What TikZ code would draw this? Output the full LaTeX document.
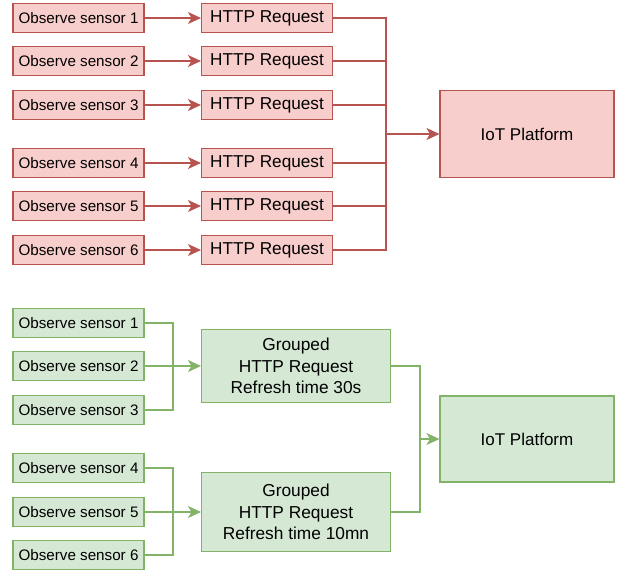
\documentclass[tikz,border=0pt]{standalone}
\usepackage{fontspec}
\setmainfont{Liberation Sans}
\usetikzlibrary{arrows.meta}
\definecolor{redfill}{HTML}{F8CECC}
\definecolor{redline}{HTML}{B85450}
\definecolor{greenfill}{HTML}{D5E8D4}
\definecolor{greenline}{HTML}{82B366}
\tikzset{box/.style={draw, rectangle, inner sep=0pt, line width=1.1pt},
  sensor/.style={box, minimum width=131pt, minimum height=29pt,
    font=\fontsize{15.2}{18}\selectfont},
  req/.style={box, minimum width=131pt, minimum height=29pt,
    font=\fontsize{17.2}{21}\selectfont},
  grouped/.style={box, minimum width=189pt, align=center,
    font=\fontsize{17.3}{21.7}\selectfont},
  platform/.style={box, minimum width=174pt, minimum height=87pt,
    font=\fontsize{17}{21}\selectfont},
  redbox/.style={fill=redfill, draw=redline},
  greenbox/.style={fill=greenfill, draw=greenline}}

\begin{document}
\begin{tikzpicture}[x=1pt, y=-1pt, line width=1.2pt,
  >={Stealth[length=13pt, width=12pt, inset=3.5pt]}]
  \useasboundingbox (0,0) rectangle (619,571);
  % one request per sensor
  \foreach \i/\y in {1/18, 2/61, 3/105, 4/163, 5/206, 6/250} {
    \node[sensor, redbox] (s\i) at (78.5,\y) {Observe sensor \i};
    \node[req, redbox] (h\i) at (267,\y) {HTTP Request};
  }
  \node[platform, redbox] (iot) at (527,134) {IoT Platform};
  \coordinate (jr) at (386,134);
  \begin{scope}[redline]
    \foreach \i in {1,...,6} {
      \draw[->] (s\i) -- (h\i);
      \draw (h\i) -| (jr);
    }
    \draw[->] (jr) -- (iot);
  \end{scope}

  % grouped requests
  \foreach \i/\y in {1/323, 2/366, 3/410, 4/468, 5/512, 6/555} {
    \node[sensor, greenbox] (g\i) at (78.5,\y) {Observe sensor \i};
  }
  \node[grouped, greenbox, minimum height=73pt] (grp1) at (296,366)
    {Grouped\\HTTP Request\\Refresh time 30s};
  \node[grouped, greenbox, minimum height=79pt] (grp2) at (296,512)
    {Grouped\\HTTP Request\\Refresh time 10mn};
  \node[platform, greenbox, minimum height=86pt] (iotg) at (527,439)
    {IoT Platform};
  \coordinate (ja) at (173,366);
  \coordinate (jb) at (173,512);
  \coordinate (jg) at (420,439);
  \begin{scope}[greenline]
    \draw (g1) -| (ja);
    \draw (g3) -| (ja);
    \draw[->] (g2) -- (grp1);
    \draw (g4) -| (jb);
    \draw (g6) -| (jb);
    \draw[->] (g5) -- (grp2);
    \draw (grp1) -| (jg);
    \draw (grp2) -| (jg);
    \draw[->] (jg) -- (iotg);
  \end{scope}
\end{tikzpicture}
\end{document}
